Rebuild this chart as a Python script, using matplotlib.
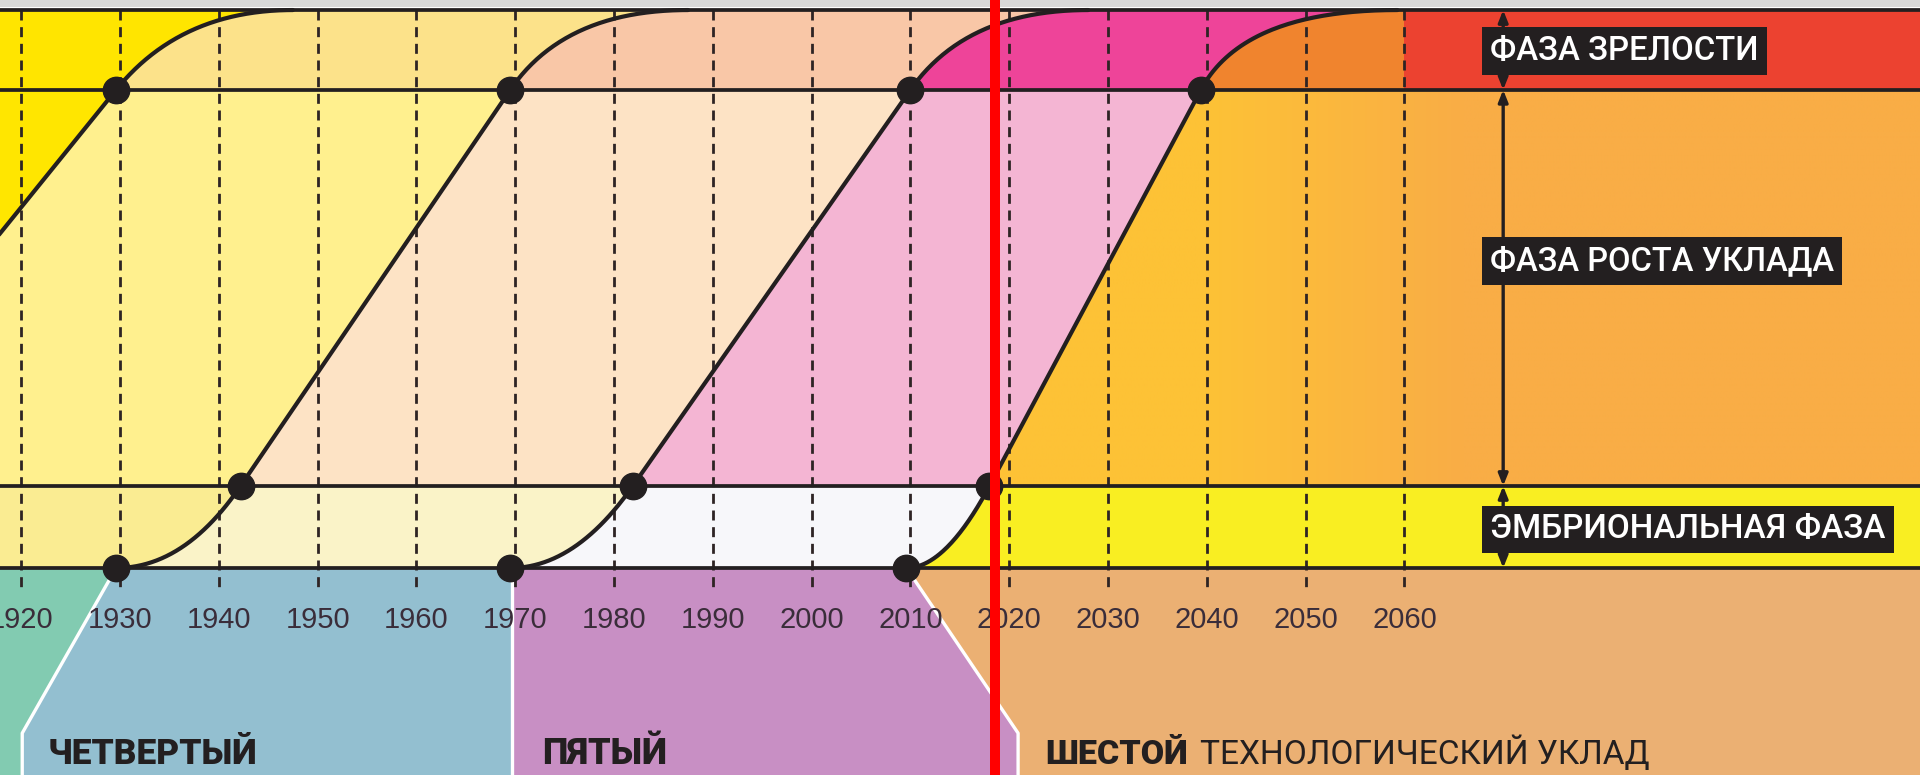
import numpy as np
import matplotlib
matplotlib.use("Agg")
import matplotlib.pyplot as plt
from matplotlib.colors import to_rgb

# ── данные ──
YEARS = list(range(1920, 2061, 10))

# четыре волны (3-й … 6-й уклад): годы переходов между фазами
START_YEAR = [1885.0, 1929.6, 1969.5, 2009.6]    # начало эмбриональной фазы
GROWTH_YEAR = [1897.2, 1942.2, 1981.9, 2018.0]   # переход в фазу роста
MATURE_YEAR = [1929.6, 1969.5, 2010.0, 2039.4]   # переход в фазу зрелости
SAT_YEAR = [1947.5, 1987.5, 2028.0, 2059.3]      # выход на насыщение

EMB_LEVEL = 14.7
MAT_LEVEL = 85.7
TOP_LEVEL = 100.0

NOW_YEAR = 2018.6
ARROW_YEAR = 2070.0
RED_FROM = 2060.0

PHASE_LABELS = ["ФАЗА ЗРЕЛОСТИ", "ФАЗА РОСТА УКЛАДА", "ЭМБРИОНАЛЬНАЯ ФАЗА"]
PHASE_LABEL_LEVEL = [92.6, 55.0, 6.9]
PHASE_LABEL_YEAR = 2068.7
PHASE_LABEL_WIDTH = [268, 345, 396]     # ширина надписи, px

# нижние плашки укладов
PANEL_COLORS = ["#82CBB1", "#93BFD0", "#C88FC4", "#EBB073"]
BORDER_LEVEL = [0.0, -29.6, -37.5]
BORDER1_YEAR = [1929.6, 1920.1, 1920.1]
BORDER2_YEAR = [1969.7, 1969.7, 1969.7]
BORDER3_YEAR = [2009.6, 2020.9, 2020.9]
PANEL_TEXT = ["ЧЕТВЕРТЫЙ", "ПЯТЫЙ", "ШЕСТОЙ"]
PANEL_TEXT_YEAR = [1922.7, 1972.7, 2023.6]
PANEL_TEXT_WIDTH = [210, 125, 143]
PANEL_TAIL = "ТЕХНОЛОГИЧЕСКИЙ УКЛАД"
PANEL_TAIL_YEAR = 2039.3
PANEL_TAIL_WIDTH = 449

# цвета областей слева от каждой волны: (эмбр., рост, зрелость)
REGION_COLORS = [
    ("#FFE600", "#FFE600", "#FFE500"),
    ("#FAEC92", "#FFF08E", "#FCE28A"),
    ("#FAF3C8", "#FDE3C5", "#F9C7A7"),
    ("#F7F7FA", "#F4B5D3", "#EE4499"),
]
RIGHT_EMB = "#F9EE22"
RIGHT_GROWTH = ["#FDC236", "#F9AD46"]
RIGHT_GROWTH_YEARS = [2040, 2066]
RIGHT_MAT = "#F0842E"
RIGHT_RED = "#EC4230"

INK = "#231F20"
SANS = ["Roboto", "Liberation Sans", "DejaVu Sans"]

XL, XR = 1917.85, 2112.19
YB, YT = -37.1, 101.8


def quad(p0, p1, p2, n=80):
    t = np.linspace(0, 1, n)[:, None]
    return (1 - t) ** 2 * p0 + 2 * (1 - t) * t * p1 + t ** 2 * p2


def wave_segments(i):
    b, e, m, s_ = START_YEAR[i], GROWTH_YEAR[i], MATURE_YEAR[i], SAT_YEAR[i]
    slope = (MAT_LEVEL - EMB_LEVEL) / (m - e)
    low = quad(np.array([b, 0.0]), np.array([e - EMB_LEVEL / slope, 0.0]),
               np.array([e, EMB_LEVEL]))
    mid = np.array([[e, EMB_LEVEL], [m, MAT_LEVEL]])
    top = quad(np.array([m, MAT_LEVEL]), np.array([m + (TOP_LEVEL - MAT_LEVEL) / slope, TOP_LEVEL]),
               np.array([s_, TOP_LEVEL]))
    return low, mid, top


fig = plt.figure(figsize=(19.2, 7.75), dpi=100)
ax = fig.add_axes([0, 0, 1, 1])
ax.set_axis_off()

# ---- правая область (после шестой волны) ----
ax.fill_between([XL, XR], 0, EMB_LEVEL, color=RIGHT_EMB, lw=0, zorder=0)
gx = np.linspace(XL, XR, 600)
c0, c1 = np.array(to_rgb(RIGHT_GROWTH[0])), np.array(to_rgb(RIGHT_GROWTH[1]))
w = np.interp(gx, RIGHT_GROWTH_YEARS, [0, 1])[:, None]
grad = ((1 - w) * c0 + w * c1)[None, :, :]
ax.imshow(grad, extent=[XL, XR, EMB_LEVEL, MAT_LEVEL], aspect="auto", origin="lower",
          interpolation="bilinear", zorder=0)
ax.fill_between([XL, RED_FROM], MAT_LEVEL, TOP_LEVEL, color=RIGHT_MAT, lw=0, zorder=0)
ax.fill_between([RED_FROM, XR], MAT_LEVEL, TOP_LEVEL, color=RIGHT_RED, lw=0, zorder=0)

# ---- области слева от волн (справа налево) ----
segs = [wave_segments(i) for i in range(4)]
for i in range(3, -1, -1):
    for seg, col in zip(segs[i], REGION_COLORS[i]):
        ax.fill_betweenx(seg[:, 1], XL - 5, seg[:, 0], color=col, lw=0, zorder=1)

# ---- нижние плашки ----
bl = np.array(BORDER_LEVEL)
ax.fill_betweenx(bl, XL - 5, BORDER1_YEAR, color=PANEL_COLORS[0], lw=0, zorder=1)
ax.fill_betweenx(bl, BORDER1_YEAR, BORDER2_YEAR, color=PANEL_COLORS[1], lw=0, zorder=1)
ax.fill_betweenx(bl, BORDER2_YEAR, BORDER3_YEAR, color=PANEL_COLORS[2], lw=0, zorder=1)
ax.fill_betweenx(bl, BORDER3_YEAR, XR + 5, color=PANEL_COLORS[3], lw=0, zorder=1)
for bx in (BORDER1_YEAR, BORDER2_YEAR, BORDER3_YEAR):
    ax.plot(bx, bl, color="white", lw=2.4, zorder=2, solid_capstyle="butt")

# ---- верхняя серая полоса ----
ax.axhspan(100.55, YT + 1, color="#D9D9D9", lw=0, zorder=1)

# ---- пунктирные вертикали и подписи лет ----
for y in YEARS:
    ax.plot([y, y], [TOP_LEVEL, -4.3], color="#2E2424", lw=2.0,
            linestyle=(0, (3.6, 2.4)), zorder=3)
    ax.text(y, -9.3, str(y), ha="center", va="center", fontsize=21,
            family="Liberation Sans", color="#3A2D3A", zorder=4)

# ---- горизонтальные границы фаз ----
for lv in (TOP_LEVEL, MAT_LEVEL, EMB_LEVEL, 0.0):
    ax.axhline(lv, color=INK, lw=2.7, zorder=4)

# ---- волны ----
for i in range(4):
    pts = np.vstack(segs[i])
    ax.plot(pts[:, 0], pts[:, 1], color=INK, lw=3.0, zorder=5, solid_capstyle="round")
    ax.plot([START_YEAR[i], GROWTH_YEAR[i], MATURE_YEAR[i]], [0, EMB_LEVEL, MAT_LEVEL],
            "o", ms=19, color=INK, zorder=6)

# ---- стрелки фаз ----
bounds = [TOP_LEVEL, MAT_LEVEL, EMB_LEVEL, 0.0]
for hi, lo in zip(bounds[:-1], bounds[1:]):
    ax.annotate("", xy=(ARROW_YEAR, hi), xytext=(ARROW_YEAR, lo),
                arrowprops=dict(arrowstyle="<|-|>,head_length=0.7,head_width=0.28",
                                color=INK, lw=2.4, shrinkA=0, shrinkB=0), zorder=7)

fit = []
for lab, lv, wd in zip(PHASE_LABELS, PHASE_LABEL_LEVEL, PHASE_LABEL_WIDTH):
    t = ax.text(PHASE_LABEL_YEAR, lv, lab, ha="left", va="center", fontsize=26,
                family=SANS, fontweight="medium", color="white", zorder=8,
                bbox=dict(boxstyle="square,pad=0.24", fc=INK, ec="none"))
    fit.append((t, wd))

# ---- названия укладов ----
for lab, yr, wd in zip(PANEL_TEXT, PANEL_TEXT_YEAR, PANEL_TEXT_WIDTH):
    t = ax.text(yr, -35.1, lab, ha="left", va="baseline", fontsize=26,
                family=SANS, fontweight="heavy", color=INK, zorder=8)
    fit.append((t, wd))
t = ax.text(PANEL_TAIL_YEAR, -35.1, PANEL_TAIL, ha="left", va="baseline", fontsize=26,
            family=SANS, color=INK, zorder=8)
fit.append((t, PANEL_TAIL_WIDTH))

# ---- красная линия ----
ax.axvline(NOW_YEAR, color="#FF0000", lw=7.2, zorder=20)

ax.set_xlim(XL, XR)
ax.set_ylim(YB, YT)

# подгонка кегля надписей под ширину оригинала
fig.canvas.draw()
rend = fig.canvas.get_renderer()
for t, wd in fit:
    cur = t.get_window_extent(rend).width
    t.set_fontsize(t.get_fontsize() * wd / cur)

fig.savefig("out.png", dpi=100, facecolor="white")
